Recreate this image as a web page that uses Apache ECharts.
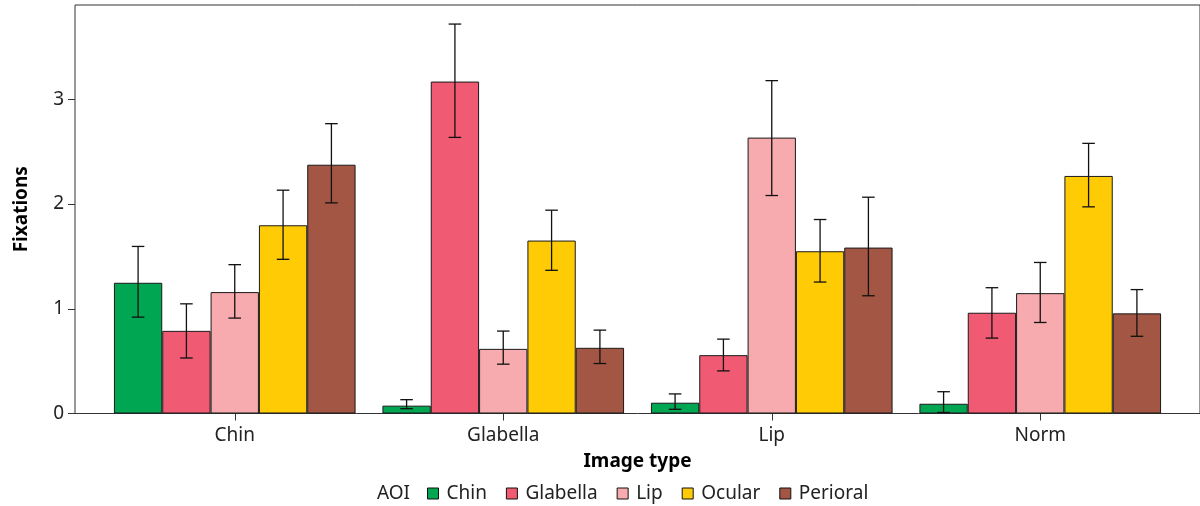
<!DOCTYPE html>
<html>
<head>
<meta charset="utf-8">
<script src="https://cdn.jsdelivr.net/npm/echarts@6/dist/echarts.min.js"></script>
<style>html,body{margin:0;padding:0;background:#fff;}#c{width:1200px;height:506px;}</style>
</head>
<body>
<div id="c"></div>
<script>
const categories = ['Chin', 'Glabella', 'Lip', 'Norm'];
const aoiNames = ['Chin', 'Glabella', 'Lip', 'Ocular', 'Perioral'];
const aoiColors = ['#00a651', '#f05b73', '#f7abae', '#ffcb05', '#a35643'];
const yTicks = [0, 1, 2, 3];

const chinMean = [1.248, 0.075, 0.103, 0.093];
const chinLow  = [0.920, 0.046, 0.040, 0.010];
const chinHigh = [1.595, 0.132, 0.187, 0.208];

const glabellaMean = [0.789, 3.169, 0.557, 0.962];
const glabellaLow  = [0.530, 2.636, 0.407, 0.720];
const glabellaHigh = [1.047, 3.718, 0.710, 1.201];

const lipMean = [1.159, 0.617, 2.634, 1.149];
const lipLow  = [0.911, 0.471, 2.081, 0.869];
const lipHigh = [1.421, 0.787, 3.178, 1.442];

const ocularMean = [1.797, 1.651, 1.549, 2.268];
const ocularLow  = [1.472, 1.367, 1.255, 1.973];
const ocularHigh = [2.132, 1.941, 1.852, 2.579];

const perioralMean = [2.375, 0.627, 1.584, 0.956];
const perioralLow  = [2.011, 0.477, 1.124, 0.737];
const perioralHigh = [2.767, 0.796, 2.065, 1.183];

const means = [chinMean, glabellaMean, lipMean, ocularMean, perioralMean];
const lows = [chinLow, glabellaLow, lipLow, ocularLow, perioralLow];
const highs = [chinHigh, glabellaHigh, lipHigh, ocularHigh, perioralHigh];

const FONT = 'Noto Sans';
const FS = 19;
const YMAX = 3.9;
const nSeries = aoiNames.length;
const catGapFrac = 0.1;

const chart = echarts.init(document.getElementById('c'), null, {renderer: 'canvas'});

const series = [];
aoiNames.forEach(function (name, i) {
  series.push({
    name: name,
    type: 'bar',
    xAxisIndex: 1,
    yAxisIndex: 1,
    data: means[i],
    barGap: '0%',
    barCategoryGap: '10%',
    itemStyle: {color: aoiColors[i], borderColor: '#1a1a1a', borderWidth: 1},
    emphasis: {disabled: true},
    z: 2
  });
});
aoiNames.forEach(function (name, i) {
  series.push({
    name: 'err-' + name,
    type: 'custom',
    xAxisIndex: 1,
    yAxisIndex: 1,
    z: 5,
    encode: {x: 0, y: [1, 2]},
    data: categories.map(function (c, k) { return [k, lows[i][k], highs[i][k]]; }),
    renderItem: function (params, api) {
      const k = api.value(0);
      const lo = api.coord([k, api.value(1)]);
      const hi = api.coord([k, api.value(2)]);
      const band = api.size([1, 0])[0];
      const bw = band * (1 - catGapFrac) / nSeries;
      const x = lo[0] + (i - (nSeries - 1) / 2) * bw;
      const cap = bw * 0.13;
      const st = {stroke: '#111', lineWidth: 1.3, fill: null};
      return {
        type: 'group',
        children: [
          {type: 'line', shape: {x1: x, y1: lo[1], x2: x, y2: hi[1]}, style: st},
          {type: 'line', shape: {x1: x - cap, y1: lo[1], x2: x + cap, y2: lo[1]}, style: st},
          {type: 'line', shape: {x1: x - cap, y1: hi[1], x2: x + cap, y2: hi[1]}, style: st}
        ]
      };
    }
  });
});

chart.setOption({
  animation: false,
  backgroundColor: '#ffffff',
  textStyle: {fontFamily: FONT},
  grid: [
    {left: 75, right: -5, top: 5, bottom: 92.5, show: true, borderColor: '#333', borderWidth: 1, backgroundColor: 'transparent'},
    {left: 100.5, right: 25.5, top: 5, bottom: 92.5}
  ],
  xAxis: [
    {type: 'value', gridIndex: 0, show: false, min: 0, max: 1},
    {
      type: 'category', gridIndex: 1, data: categories,
      axisLine: {show: false},
      axisTick: {show: true, alignWithLabel: true, length: 7, lineStyle: {color: '#333', width: 1}},
      axisLabel: {margin: 13, fontSize: FS, color: '#222', fontFamily: FONT, interval: 0},
      name: 'Image type', nameLocation: 'middle', nameGap: 39,
      nameTextStyle: {fontSize: FS, fontWeight: 'bold', color: '#000', fontFamily: FONT}
    }
  ],
  yAxis: [
    {
      type: 'value', gridIndex: 0, min: 0, max: YMAX, interval: 1,
      axisLine: {show: false},
      axisTick: {show: true, length: 7, customValues: yTicks, lineStyle: {color: '#333', width: 1}},
      axisLabel: {margin: 11, fontSize: FS, color: '#222', fontFamily: FONT, customValues: yTicks},
      splitLine: {show: false},
      name: 'Fixations', nameLocation: 'middle', nameGap: 44, nameRotate: 90,
      nameTextStyle: {fontSize: FS, fontWeight: 'bold', color: '#000', fontFamily: FONT}
    },
    {type: 'value', gridIndex: 1, min: 0, max: YMAX, interval: 1, show: false, splitLine: {show: false}}
  ],
  legend: {
    data: aoiNames,
    left: 427, top: 484, padding: 0,
    icon: 'rect', itemWidth: 11, itemHeight: 11, itemGap: 19,
    textStyle: {fontSize: FS, color: '#222', fontFamily: FONT, padding: [0, 0, 0, 3]},
    itemStyle: {borderColor: '#111', borderWidth: 1},
    selectedMode: false
  },
  graphic: [
    {type: 'text', left: 377, top: 484, style: {text: 'AOI', font: FS + 'px "Noto Sans"', fill: '#222'}}
  ],
  series: series
});
</script>
</body>
</html>
